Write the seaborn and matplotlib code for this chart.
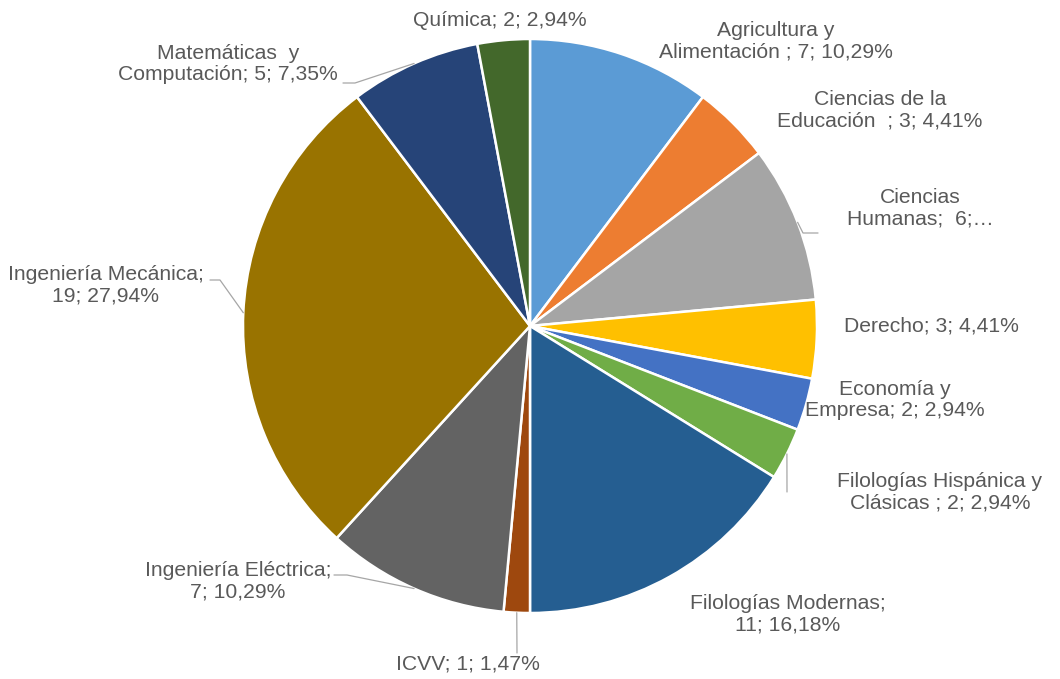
import numpy as np
import matplotlib
matplotlib.use('Agg')
import matplotlib.pyplot as plt
import seaborn as sns

# Datos: areas de conocimiento (orden horario desde arriba)
areas = ['Agricultura y Alimentación', 'Ciencias de la Educación', 'Ciencias Humanas',
         'Derecho', 'Economía y Empresa', 'Filologías Hispánica y Clásicas',
         'Filologías Modernas', 'ICVV', 'Ingeniería Eléctrica', 'Ingeniería Mecánica',
         'Matemáticas y Computación', 'Química']
valores = [7, 3, 6, 3, 2, 2, 11, 1, 7, 19, 5, 2]
etiquetas = ['Agricultura y\nAlimentación ; 7; 10,29%',
             'Ciencias de la\nEducación  ; 3; 4,41%',
             'Ciencias\nHumanas;  6;…',
             'Derecho; 3; 4,41%',
             'Economía y\nEmpresa; 2; 2,94%',
             'Filologías Hispánica y\nClásicas ; 2; 2,94%',
             'Filologías Modernas;\n11; 16,18%',
             'ICVV; 1; 1,47%',
             'Ingeniería Eléctrica;\n7; 10,29%',
             'Ingeniería Mecánica;\n19; 27,94%',
             'Matemáticas  y\nComputación; 5; 7,35%',
             'Química; 2; 2,94%']
colores = ['#5B9BD5', '#ED7D31', '#A5A5A5', '#FFC000', '#4472C4', '#70AD47',
           '#255E91', '#9E480E', '#636363', '#997300', '#264478', '#43682B']

# Posiciones de etiquetas en pixeles (centro del texto)
pos_etiq = [(776, 41), (880, 110), (920, 208), (931, 326), (895, 400), (940, 492),
            (788, 614), (468, 664), (238, 581), (106, 285), (228, 64), (500, 20)]
# Codo de las lineas guia
codos = {2: [(803, 233), (818, 233)],
         5: [(787, 492)],
         7: [(517, 653)],
         8: [(347, 575), (334, 575)],
         9: [(220, 280), (210, 280)],
         10: [(355, 83), (343, 83)]}

sns.set_theme(style='white')
plt.rcParams['font.family'] = ['Liberation Sans', 'DejaVu Sans']

W, H = 1060, 679
cx, cy, R = 530, 326, 287
fig = plt.figure(figsize=(W / 100, H / 100), dpi=100)
ax = fig.add_axes([0, 0, 1, 1])


def px(x, y):
    return (x - cx) / R, (cy - y) / R


ax.pie(valores, colors=colores, startangle=90, counterclock=False, radius=1,
       wedgeprops=dict(edgecolor='white', linewidth=1.8))
ax.set_aspect('auto')
ax.set_xlim(-cx / R, (W - cx) / R)
ax.set_ylim(-(H - cy) / R, cy / R)
ax.axis('off')

total = sum(valores)
acum = np.cumsum([0] + valores[:-1])
for i, txt in enumerate(etiquetas):
    x, y = px(*pos_etiq[i])
    ax.text(x, y, txt, ha='center', va='center', multialignment='center',
            fontsize=15.2, color='#595959', linespacing=1.17)
    if i in codos:
        ang = np.deg2rad((acum[i] + valores[i] / 2) / total * 360)
        pts = [(np.sin(ang), np.cos(ang))] + [px(*p) for p in codos[i]]
        xs, ys = zip(*pts)
        ax.plot(xs, ys, color='#A6A6A6', lw=0.9)

fig.savefig('out.png', dpi=100)
